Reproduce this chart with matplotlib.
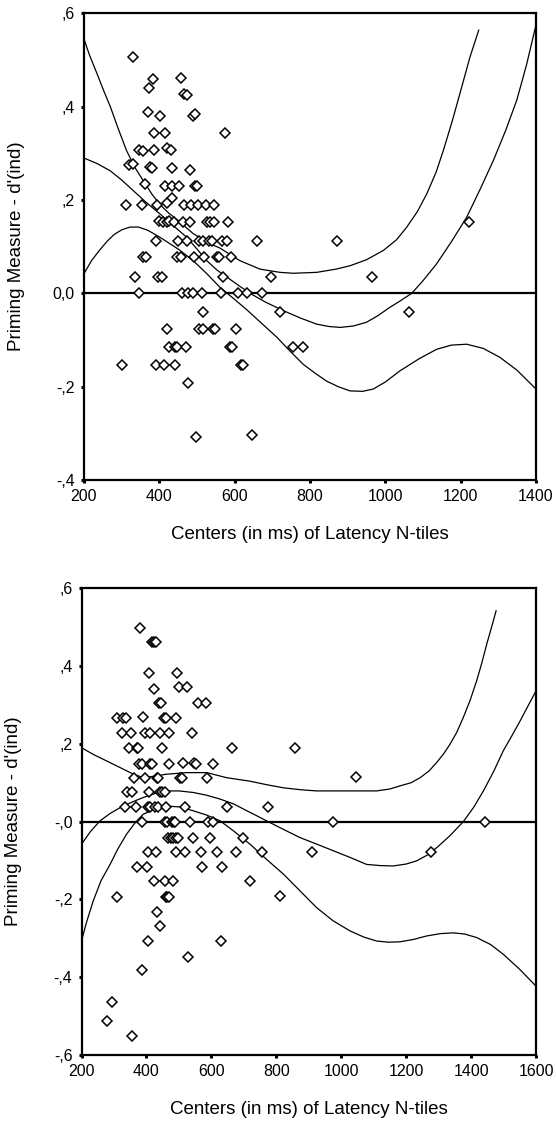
import matplotlib
matplotlib.use("Agg")
import matplotlib.pyplot as plt
import numpy as np

plt.rcParams['font.family'] = ['Liberation Sans', 'DejaVu Sans']

# ---------------- top panel data ----------------
top_x = [329, 382, 457, 372, 465, 473, 370, 402, 489, 494,
         386, 415, 574, 347, 356, 387, 421, 430, 320, 331,
         376, 380, 435, 481, 363, 414, 435, 451, 495, 501,
         433, 311, 353, 393, 421, 466, 484, 504, 525, 545,
         400, 411, 421, 427, 439, 464, 481, 526, 534, 545, 583,
         390, 450, 473, 506, 515, 532, 539, 567, 579, 660,
         357, 365, 446, 457, 493, 519, 554, 559, 590,
         336, 397, 406, 570, 696,
         346, 459, 477, 489, 514, 564, 608, 634, 672,
         517, 720,
         420, 506, 517, 543, 549, 603,
         426, 442, 448, 470, 588, 592, 754, 782,
         300, 390, 412, 443, 617, 623,
         476, 497, 645,
         873, 964, 1063, 1222]
top_y = [0.507, 0.459, 0.461, 0.440, 0.427, 0.424, 0.388, 0.381, 0.381, 0.385,
         0.344, 0.344, 0.344, 0.308, 0.306, 0.308, 0.312, 0.308, 0.274, 0.277,
         0.270, 0.268, 0.269, 0.265, 0.234, 0.229, 0.229, 0.229, 0.229, 0.229,
         0.204, 0.189, 0.189, 0.189, 0.193, 0.189, 0.189, 0.189, 0.189, 0.189,
         0.156, 0.152, 0.152, 0.154, 0.152, 0.152, 0.152, 0.152, 0.152, 0.152, 0.152,
         0.113, 0.113, 0.113, 0.113, 0.113, 0.113, 0.113, 0.113, 0.113, 0.113,
         0.077, 0.077, 0.077, 0.077, 0.077, 0.077, 0.077, 0.077, 0.077,
         0.036, 0.036, 0.036, 0.036, 0.036,
         0.0, 0.0, 0.0, 0.0, 0.0, 0.0, 0.0, 0.0, 0.0,
         -0.039, -0.039,
         -0.076, -0.076, -0.076, -0.076, -0.076, -0.076,
         -0.116, -0.116, -0.116, -0.116, -0.116, -0.116, -0.116, -0.116,
         -0.153, -0.153, -0.153, -0.153, -0.153, -0.153,
         -0.193, -0.307, -0.304,
         0.113, 0.036, -0.040, 0.152]

# fitted curve + bands
top_up_x = [200, 215, 235, 252, 270, 290, 313, 335, 357, 380, 402, 425, 450, 490, 530, 561,
            614, 667, 720, 756, 818, 870, 906, 950, 995, 1030, 1057, 1085, 1110, 1135, 1154,
            1178, 1198, 1225, 1248]
top_up_y = [0.545, 0.51, 0.47, 0.435, 0.40, 0.355, 0.306, 0.27, 0.242, 0.213, 0.19, 0.172,
            0.156, 0.128, 0.108, 0.097, 0.07, 0.052, 0.045, 0.043, 0.045, 0.052, 0.059, 0.072,
            0.092, 0.115, 0.142, 0.175, 0.213, 0.26, 0.306, 0.37, 0.428, 0.507, 0.564]
top_mid_x = [200, 235, 269, 300, 331, 365, 402, 440, 473, 500, 526, 553, 579, 614, 641, 680,
             729, 775, 818, 850, 880, 915, 950, 980, 1012, 1040, 1070, 1100, 1136, 1175, 1216,
             1250, 1287, 1320, 1349, 1375, 1400]
top_mid_y = [0.29, 0.278, 0.263, 0.243, 0.22, 0.195, 0.17, 0.143, 0.12, 0.095, 0.07, 0.05,
             0.035, 0.015, 0.0, -0.018, -0.037, -0.053, -0.066, -0.071, -0.073, -0.07, -0.062,
             -0.048, -0.03, -0.016, 0.0, 0.027, 0.063, 0.11, 0.163, 0.22, 0.285, 0.35, 0.414,
             0.49, 0.575]
top_lo_x = [200, 220, 242, 262, 280, 300, 322, 345, 370, 402, 450, 490, 525, 561, 600, 632,
            670, 712, 745, 782, 815, 844, 875, 906, 940, 968, 1000, 1039, 1090, 1136, 1175,
            1216, 1260, 1304, 1350, 1400]
top_lo_y = [0.042, 0.07, 0.093, 0.112, 0.126, 0.136, 0.142, 0.142, 0.135, 0.12, 0.095, 0.07,
            0.043, 0.013, -0.013, -0.035, -0.063, -0.094, -0.122, -0.152, -0.172, -0.188,
            -0.2, -0.209, -0.21, -0.205, -0.19, -0.166, -0.14, -0.12, -0.111, -0.109, -0.118,
            -0.137, -0.165, -0.205]

top_yticks = [-0.4, -0.2, 0.0, 0.2, 0.4, 0.6]
top_ylabels = ['-,4', '-,2', '0,0', ',2', ',4', ',6']
top_xticks = [200, 400, 600, 800, 1000, 1200, 1400]

# ---------------- bottom panel data ----------------
bot_x = [380, 418, 424, 428, 409, 493, 424, 501, 524, 439, 444, 560, 583,
         310, 329, 337, 390, 454, 460, 490,
         324, 352, 396, 411, 442, 470, 539,
         347, 370, 375, 447, 663, 858,
         378, 385, 411, 416, 470, 514, 547, 553, 604,
         362, 396, 432, 437, 503, 509, 586, 1045,
         339, 355, 409, 442, 449, 457,
         334, 368, 404, 411, 426, 437, 460, 519, 647, 775,
         385, 457, 462, 478, 485, 488, 534, 591, 606, 976, 1443,
         467, 475, 483, 491, 498, 543, 596, 698,
         404, 429, 491, 519, 567, 618, 676, 755, 909, 1276,
         372, 401, 570, 634,
         424, 457, 483, 719,
         310, 460, 464, 469, 811,
         433, 442, 406, 629, 529, 385, 293, 279, 355]
bot_y = [0.499, 0.461, 0.461, 0.461, 0.381, 0.381, 0.342, 0.345, 0.345, 0.306, 0.306, 0.304, 0.304,
         0.266, 0.266, 0.266, 0.269, 0.266, 0.266, 0.266,
         0.229, 0.229, 0.229, 0.229, 0.229, 0.229, 0.229,
         0.19, 0.19, 0.19, 0.19, 0.19, 0.19,
         0.149, 0.149, 0.149, 0.149, 0.149, 0.152, 0.152, 0.149, 0.149,
         0.113, 0.113, 0.113, 0.113, 0.113, 0.113, 0.113, 0.115,
         0.075, 0.075, 0.075, 0.075, 0.075, 0.075,
         0.038, 0.038, 0.038, 0.038, 0.038, 0.038, 0.038, 0.038, 0.038, 0.038,
         0.0, 0.0, 0.0, 0.0, 0.0, 0.0, 0.0, 0.0, 0.0, 0.0, 0.0,
         -0.041, -0.041, -0.041, -0.041, -0.041, -0.041, -0.041, -0.041,
         -0.077, -0.077, -0.077, -0.077, -0.077, -0.077, -0.077, -0.077, -0.077, -0.077,
         -0.117, -0.117, -0.117, -0.117,
         -0.153, -0.153, -0.153, -0.153,
         -0.193, -0.193, -0.193, -0.193, -0.192,
         -0.232, -0.268, -0.307, -0.307, -0.347, -0.382, -0.465, -0.512, -0.551]

bot_up_x = [200, 236, 280, 319, 355, 390, 425, 462, 524, 586, 647, 719, 770, 822, 875, 924,
            1027, 1109, 1150, 1181, 1215, 1243, 1270, 1294, 1315, 1335, 1356, 1376, 1397,
            1417, 1433, 1448, 1463, 1477]
bot_up_y = [0.19, 0.173, 0.155, 0.139, 0.124, 0.113, 0.117, 0.122, 0.126, 0.126, 0.113, 0.104,
            0.095, 0.087, 0.082, 0.079, 0.079, 0.079, 0.084, 0.092, 0.1, 0.113, 0.13, 0.152,
            0.174, 0.199, 0.23, 0.268, 0.312, 0.362, 0.408, 0.456, 0.5, 0.542]
bot_mid_x = [200, 228, 257, 288, 319, 355, 390, 425, 462, 500, 544, 585, 627, 670, 709, 740,
             770, 822, 873, 925, 976, 1030, 1078, 1120, 1160, 1200, 1232, 1265, 1294, 1335,
             1376, 1408, 1438, 1470, 1499, 1525, 1551, 1575, 1600]
bot_mid_y = [-0.058, -0.025, 0.002, 0.021, 0.036, 0.05, 0.062, 0.072, 0.079, 0.079, 0.075,
             0.068, 0.058, 0.045, 0.028, 0.015, 0.002, -0.02, -0.041, -0.058, -0.075, -0.093,
             -0.11, -0.113, -0.114, -0.109, -0.101, -0.086, -0.067, -0.036, 0.0, 0.037, 0.079,
             0.13, 0.182, 0.22, 0.259, 0.297, 0.336]
bot_lo_x = [200, 215, 236, 260, 288, 312, 339, 365, 390, 425, 462, 500, 544, 585, 627, 670,
            719, 770, 822, 873, 924, 975, 1027, 1070, 1109, 1145, 1181, 1222, 1263, 1305,
            1345, 1380, 1417, 1460, 1499, 1550, 1600]
bot_lo_y = [-0.307, -0.26, -0.204, -0.152, -0.11, -0.07, -0.032, -0.003, 0.019, 0.032, 0.04,
            0.038, 0.028, 0.017, 0.002, -0.025, -0.058, -0.097, -0.135, -0.178, -0.221, -0.255,
            -0.281, -0.297, -0.307, -0.31, -0.309, -0.303, -0.294, -0.288, -0.286, -0.289,
            -0.298, -0.316, -0.341, -0.38, -0.423]

bot_yticks = [-0.6, -0.4, -0.2, 0.0, 0.2, 0.4, 0.6]
bot_ylabels = ['-,6', '-,4', '-,2', '-,0', ',2', ',4', ',6']
bot_xticks = [200, 400, 600, 800, 1000, 1200, 1400, 1600]


def draw_panel(ax, xs, ys, curves, xticks, yticks, ylabels):
    # reference line at zero
    ax.axhline(0, color='black', lw=1.6, zorder=1)
    for cx, cy in curves:
        ax.plot(cx, cy, color='black', lw=0.9, zorder=2)
    ax.plot(xs, ys, linestyle='none', marker='D', markersize=5.4,
            markerfacecolor='white', markeredgecolor='black', markeredgewidth=1.1, zorder=3)

    ax.set_xlim(xticks[0], xticks[-1])
    ax.set_ylim(yticks[0], yticks[-1])
    ax.set_xticks(xticks)
    ax.set_xticklabels([str(t) for t in xticks])
    ax.set_yticks(yticks)
    ax.set_yticklabels(ylabels)
    ax.tick_params(direction='out', length=2.5, width=2.2, labelsize=11.5, pad=4)
    for sp in ax.spines.values():
        sp.set_linewidth(1.6)
    ax.set_xlabel('Centers (in ms) of Latency N-tiles', fontsize=13.5, labelpad=16)
    ax.set_ylabel("Priming Measure - d'(ind)", fontsize=13.5)
    ax.yaxis.set_label_coords(-0.13, 0.5)


fig = plt.figure(figsize=(5.56, 11.21), dpi=100)
ax1 = fig.add_axes([0.151, 0.5718, 0.813, 0.4163])
ax2 = fig.add_axes([0.1466, 0.0589, 0.8175, 0.4163])

draw_panel(ax1, top_x, top_y,
           [(top_up_x, top_up_y), (top_mid_x, top_mid_y), (top_lo_x, top_lo_y)],
           top_xticks, top_yticks, top_ylabels)
draw_panel(ax2, bot_x, bot_y,
           [(bot_up_x, bot_up_y), (bot_mid_x, bot_mid_y), (bot_lo_x, bot_lo_y)],
           bot_xticks, bot_yticks, bot_ylabels)

fig.savefig('out.png', dpi=100)
